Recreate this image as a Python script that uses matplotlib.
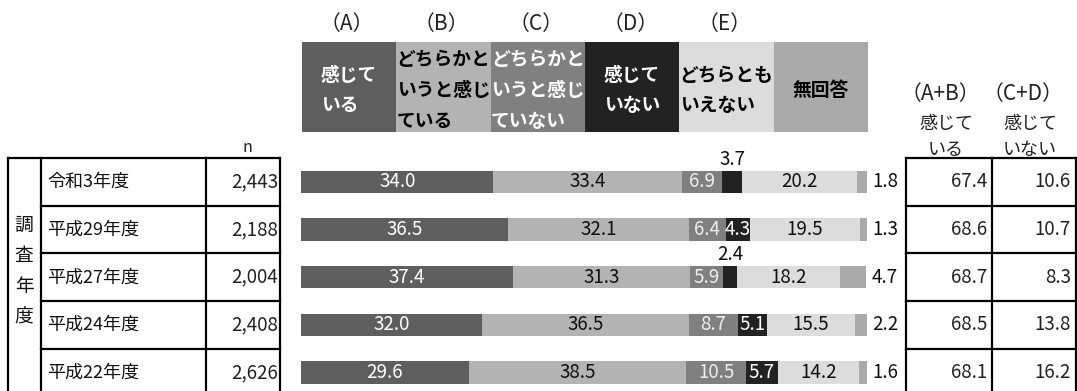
import matplotlib
matplotlib.use("Agg")
import matplotlib.pyplot as plt
from matplotlib.patches import Rectangle

# ---- data -------------------------------------------------------------
years = ["令和3年度", "平成29年度", "平成27年度", "平成24年度", "平成22年度"]
n_counts = ["2,443", "2,188", "2,004", "2,408", "2,626"]

feel = [34.0, 36.5, 37.4, 32.0, 29.6]           # (A) 感じている
rather_feel = [33.4, 32.1, 31.3, 36.5, 38.5]    # (B) どちらかというと感じている
rather_not = [6.9, 6.4, 5.9, 8.7, 10.5]         # (C) どちらかというと感じていない
not_feel = [3.7, 4.3, 2.4, 5.1, 5.7]            # (D) 感じていない
neither = [20.2, 19.5, 18.2, 15.5, 14.2]        # (E) どちらともいえない
no_answer = [1.8, 1.3, 4.7, 2.2, 1.6]           # 無回答

sum_ab = [67.4, 68.6, 68.7, 68.5, 68.1]
sum_cd = [10.6, 10.7, 8.3, 13.8, 16.2]

category_marks = ["（A）", "（B）", "（C）", "（D）", "（E）", ""]
category_names = ["感じて\nいる", "どちらかと\nいうと感じ\nている",
                  "どちらかと\nいうと感じ\nていない", "感じて\nいない",
                  "どちらとも\nいえない", "無回答"]

# ---- style ------------------------------------------------------------
colors = ["#5e5e5e", "#b3b3b3", "#808080", "#222222", "#dcdcdc", "#aaaaaa"]
head_text = ["white", "black", "white", "white", "black", "black"]
bar_text = ["white", "#111111", "#eeeeee", "white", "#111111", "#111111"]

plt.rcParams["font.family"] = ["Noto Sans CJK JP", "DejaVu Sans"]

W, H = 1077, 391
fig = plt.figure(figsize=(W / 100, H / 100), dpi=100)

# overlay in pixel units for the frame, tables and header
ov = fig.add_axes([0, 0, 1, 1])
ov.set_xlim(0, W)
ov.set_ylim(H, 0)
ov.axis("off")

top, pitch = 158, 47.7
nrows = len(years)
row_y = [top + (i + 0.5) * pitch for i in range(nrows)]
bottom = top + nrows * pitch

bar_x0, bar_x1 = 301, 867

# bar axes (0-100 %)
ax = fig.add_axes([bar_x0 / W, (H - bottom) / H, (bar_x1 - bar_x0) / W, (bottom - top) / H])
ax.set_xlim(0, 100)
ax.set_ylim(nrows - 0.5, -0.5)
ax.axis("off")

num_fs = 13.5
series = [feel, rather_feel, rather_not, not_feel, neither, no_answer]
rows = list(range(nrows))
bh = 0.47
lefts = [0.0] * nrows
for k, vals in enumerate(series):
    ax.barh(rows, vals, left=lefts, height=bh, color=colors[k], linewidth=0)
    for i, v in enumerate(vals):
        cx = lefts[i] + v / 2
        label = f"{v:.1f}"
        if k == len(series) - 1:
            ax.text(100.9, i, label, ha="left", va="center", fontsize=num_fs,
                    color=bar_text[k], clip_on=False)
        elif v < 4.0:
            ax.text(cx, i - bh / 2 - 0.02, label, ha="center", va="bottom",
                    fontsize=num_fs, color="#111111")
        else:
            ax.text(cx, i, label, ha="center", va="center", fontsize=num_fs,
                    color=bar_text[k])
    lefts = [l + v for l, v in zip(lefts, vals)]

# ---- header boxes -----------------------------------------------------
box_w = (868 - 302) / 6
for k in range(6):
    x0 = 302 + k * box_w
    ov.add_patch(Rectangle((x0, 42), box_w, 90, facecolor=colors[k], edgecolor="none"))
    ov.text(x0 + box_w / 2, 90.5, category_names[k], ha="center", va="center",
            multialignment="left", fontsize=13.5, fontweight="bold",
            color=head_text[k], linespacing=1.78)
    if category_marks[k]:
        ov.text(x0 + box_w / 2 - 2, 24, category_marks[k], ha="center", va="center",
                fontsize=15, color="#222222")

# ---- left table -------------------------------------------------------
lw = 1.6
ov.plot([8, 280], [top, top], color="black", lw=lw)
ov.plot([8, 8], [top, bottom], color="black", lw=lw)
ov.plot([41, 41], [top, bottom], color="black", lw=lw)
ov.plot([206, 206], [top, bottom], color="black", lw=lw)
ov.plot([280, 280], [top, bottom], color="black", lw=lw)
for i in range(1, nrows + 1):
    y = top + i * pitch
    ov.plot([41, 280], [y, y], color="black", lw=lw)

ov.text(24, 271, "\n".join("調査年度"), ha="center", va="center",
        fontsize=13.5, linespacing=1.6, color="#111111")
ov.text(247, 147, "n", ha="center", va="center", fontsize=11.5, color="#222222")
for i in range(nrows):
    ov.text(47, row_y[i], years[i], ha="left", va="center", fontsize=13, color="#111111")
    ov.text(278, row_y[i], n_counts[i], ha="right", va="center", fontsize=num_fs, color="#222222")

# ---- right table ------------------------------------------------------
rx0, rx1, rx2 = 906, 992, 1076
ov.plot([rx0, rx2], [top, top], color="black", lw=lw)
for x in (rx0, rx1, rx2):
    ov.plot([x, x], [top, bottom], color="black", lw=lw)
for i in range(1, nrows + 1):
    y = top + i * pitch
    ov.plot([rx0, rx2], [y, y], color="black", lw=lw)

ov.text(940, 94, "（A+B）", ha="center", va="center", fontsize=15, color="#222222")
ov.text(1023, 94, "（C+D）", ha="center", va="center", fontsize=15, color="#222222")
ov.text(946, 137, "感じて\nいる", ha="center", va="center", fontsize=13,
        linespacing=1.5, color="#222222")
ov.text(1030, 137, "感じて\nいない", ha="center", va="center", fontsize=13,
        linespacing=1.5, color="#222222")
for i in range(nrows):
    ov.text(987, row_y[i], f"{sum_ab[i]:.1f}", ha="right", va="center",
            fontsize=num_fs, color="#222222")
    ov.text(1071, row_y[i], f"{sum_cd[i]:.1f}", ha="right", va="center",
            fontsize=num_fs, color="#222222")

fig.savefig("out.png", dpi=100, facecolor="white")
